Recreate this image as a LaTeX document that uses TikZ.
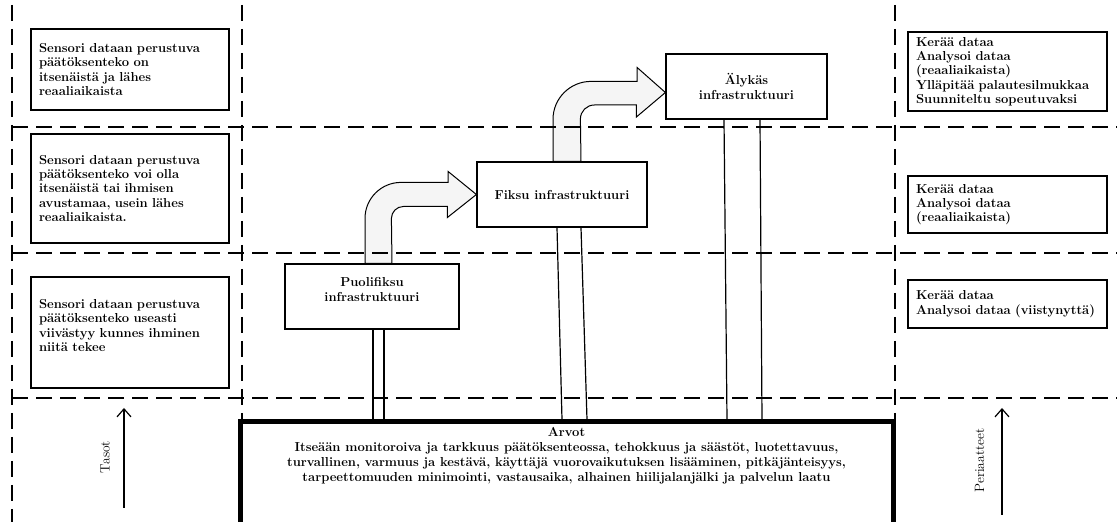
\documentclass[tikz,border=0pt]{standalone}
\usepackage{amsmath}
\usepackage{tikz}
\usetikzlibrary{calc,arrows.meta}

\begin{document}
\begin{tikzpicture}[x=1pt,y=1pt,
  every node/.style={font=\fontsize{13}{14.3}\selectfont\bfseries},
  infobox/.style={draw,line width=1.2pt,fill=white,align=left,inner xsep=8pt},
  infra/.style={draw,line width=1.2pt,fill=white,align=center},
  raja/.style={line width=1.5pt,dash pattern=on 16pt off 8pt},
  siirto/.style={draw=black,line width=1pt,fill=gray!8},
  yhteys/.style={line width=1.2pt},
  nuoli/.style={line width=1.2pt,-{Straight Barb[length=8pt,width=14pt]}},
  akseli/.style={rotate=90,font=\fontsize{13.5}{15}\selectfont\mdseries}]
\useasboundingbox (0,0) rectangle (1117,522);
% tasot
\node[infobox,text width=182pt,minimum height=81pt] (taso3) at (130,452.5) {Sensori dataan perustuva\\ päätöksenteko on\\ itsenäistä ja lähes\\ reaaliaikaista};
\node[infobox,text width=182pt,minimum height=109pt] (taso2) at (130,333.5) {Sensori dataan perustuva\\ päätöksenteko voi olla\\ itsenäistä tai ihmisen\\ avustamaa, usein lähes\\ reaaliaikaista.};
\node[infobox,text width=182pt,minimum height=111pt] (taso1) at (130,189.5) {Sensori dataan perustuva\\ päätöksenteko useasti\\ viivästyy kunnes ihminen\\ niitä tekee\\ \mbox{}};
% periaatteet
\node[infobox,text width=183pt,minimum height=79pt] (peri3) at (1007.5,450.5) {Kerää dataa\\ Analysoi dataa\\ (reaaliaikaista)\\ \mbox{Ylläpitää palautesilmukkaa}\\ Suunniteltu sopeutuvaksi};
\node[infobox,text width=183pt,minimum height=57pt] (peri2) at (1007.5,317.5) {Kerää dataa\\ Analysoi dataa\\ (reaaliaikaista)};
\node[infobox,text width=183pt,minimum height=48pt] (peri1) at (1007.5,218) {Kerää dataa\\ \mbox{Analysoi dataa (viistynyttä)}};
% infrastruktuurit
\node[infra,minimum width=174pt,minimum height=65pt] (puoli) at (372,225.5) {Puolifiksu\\ infrastruktuuri\\[0pt]};
\node[infra,minimum width=170pt,minimum height=65pt] (fiksu) at (562,327.5) {Fiksu infrastruktuuri};
\node[infra,minimum width=161pt,minimum height=65pt] (alykas) at (746.5,435.5) {Älykäs\\ infrastruktuuri};
% siirtymat
\path[siirto] ($(puoli.north)+(-7,0)$) -- ++(0,45) arc[start angle=180,end angle=90,radius=36]
  -- ++(47,0) -- ++(0,11) -- (fiksu.west) -- ++(-29,-23) -- ++(0,11) -- ++(-44,0)
  arc[start angle=90,end angle=180,radius=12] -- ($(puoli.north)+(20,0)$) -- cycle;
\path[siirto] ($(fiksu.north)+(-9,0)$) -- ++(0,42) arc[start angle=180,end angle=90,radius=38]
  -- ++(46,0) -- ++(0,14) -- ($(alykas.west)+(0,-6)$) -- ++(-29,-24.5) -- ++(0,12) -- ++(-42,0)
  arc[start angle=90,end angle=180,radius=14] -- ($(fiksu.north)+(19,0)$) -- cycle;
% rajat
\foreach \x in {12,242,895} \draw[raja] (\x,517) -- (\x,0);
\foreach \y in {395,269,124} \draw[raja] (12,\y) -- (1117,\y);
% arvot
\node[draw,line width=5pt,fill=white,minimum width=653pt,minimum height=108pt,anchor=north] (arvot) at (566.5,102.5) {};
\node[anchor=north,align=center,font=\fontsize{13}{15}\selectfont\bfseries] (arvoteksti) at (566.5,98.5) {Arvot\\ Itseään monitoroiva ja tarkkuus päätöksenteossa, tehokkuus ja säästöt, luotettavuus,\\ turvallinen, varmuus ja kestävä, käyttäjä vuorovaikutuksen lisääminen, pitkäjänteisyys,\\ tarpeettomuuden minimointi, vastausaika, alhainen hiilijalanjälki ja palvelun laatu};
\draw[yhteys] ($(puoli.south)+(1,0)$) -- ($(puoli.south |- arvot.north)+(1,0)$);
\draw[yhteys] ($(puoli.south)+(12,0)$) -- ($(puoli.south |- arvot.north)+(12,0)$);
\draw[yhteys] ($(fiksu.south)+(-5,0)$) -- (fiksu.south |- arvot.north);
\draw[yhteys] ($(fiksu.south)+(19,0)$) -- ($(fiksu.south |- arvot.north)+(25,0)$);
\draw[yhteys] ($(alykas.south)+(-22.5,0)$) -- ($(alykas.south |- arvot.north)+(-19.5,0)$);
\draw[yhteys] ($(alykas.south)+(13.5,0)$) -- ($(alykas.south |- arvot.north)+(15.5,0)$);
% akselit
\coordinate (tasoala) at (124,14);
\coordinate (tasoyla) at (124,114);
\draw[nuoli] (tasoala) -- (tasoyla);
\node[akseli] (tasot) at (105,65) {Tasot};
\coordinate (perala) at (1002,7);
\coordinate (peryla) at (1002,114);
\draw[nuoli] (perala) -- (peryla);
\node[akseli] (periaatteet) at (979.5,61.5) {Periaatteet};
\end{tikzpicture}
\end{document}
